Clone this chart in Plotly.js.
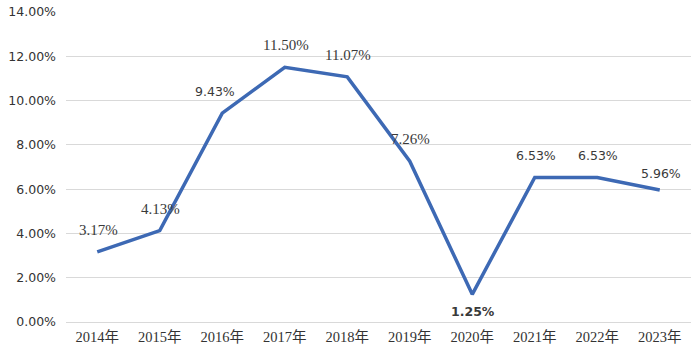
<!DOCTYPE html>
<html><head><meta charset="utf-8">
<script src="https://cdn.plot.ly/plotly-3.0.1.min.js"></script>
<style>html,body{margin:0;padding:0;background:#fff;}#chart{width:693px;height:354px;}</style>
</head><body><div id="chart"></div>
<script>
const years = ['2014年','2015年','2016年','2017年','2018年','2019年','2020年','2021年','2022年','2023年'];
const values = [3.17, 4.13, 9.43, 11.50, 11.07, 7.26, 1.25, 6.53, 6.53, 5.96];
const labels = ['3.17%','4.13%','9.43%','11.50%','11.07%','7.26%','1.25%','6.53%','6.53%','5.96%'];
const yTickVals = [0,2,4,6,8,10,12,14];
const yTickText = ['0.00%','2.00%','4.00%','6.00%','8.00%','10.00%','12.00%','14.00%'];

const serifIdx = [0,1,3,4,5];
const annotations = values.map((v,i)=>{
  const below = (i===6);
  let ys = below ? -17 : 22;
  if (i===9) ys = 17;
  return {
    x: years[i], y: v, xref:'x', yref:'y', text: labels[i], showarrow:false,
    yshift: ys, xshift: (i===2? -7 : 1),
    font: {family: serifIdx.includes(i) ? 'Liberation Serif, serif' : 'DejaVu Sans, sans-serif',
           size: serifIdx.includes(i) ? 15 : 12.5, color:'#3a3a3a',
           weight: below ? 'bold' : 'normal'}
  };
});

const trace = {
  x: years, y: values, type:'scatter', mode:'lines',
  line: {color:'#3D69B4', width:3.5},
  hoverinfo:'skip'
};
const layout = {
  width:693, height:354,
  margin:{l:66, r:2, t:12, b:32},
  paper_bgcolor:'#fff', plot_bgcolor:'#fff',
  showlegend:false,
  xaxis:{type:'category', range:[-0.5, 9.5], autorange:false, automargin:false,
    showgrid:false, zeroline:false, showline:false, ticks:'',
    tickfont:{family:'Liberation Serif, Noto Sans CJK SC, serif', size:14.5, color:'#333'},
    ticklabelstandoff:4},
  yaxis:{range:[0,14], autorange:false, automargin:false, tickvals:yTickVals, ticktext:yTickText, showgrid:true,
    gridcolor:'#d9d9d9', gridwidth:1, zeroline:true, zerolinecolor:'#d9d9d9', zerolinewidth:1,
    showline:false, ticks:'', ticklabelstandoff:9,
    tickfont:{family:'DejaVu Sans, sans-serif', size:12.5, color:'#333'}},
  annotations: annotations
};
Plotly.newPlot('chart',[trace],layout,{displayModeBar:false, staticPlot:true});
</script></body></html>
